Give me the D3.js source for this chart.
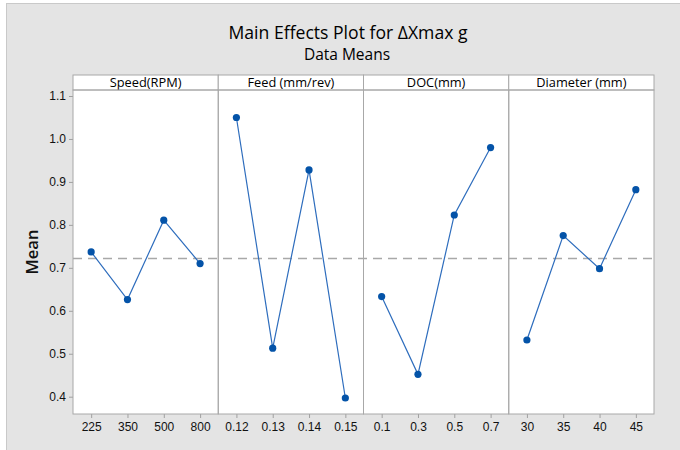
<!DOCTYPE html>
<html>
<head>
<meta charset="utf-8">
<script src="https://cdn.jsdelivr.net/npm/d3@7"></script>
<style>
  body { margin: 0; background: #fff; }
  svg { display: block; font-family: "Open Sans", "Noto Sans", sans-serif; }
  .tick text { fill: #111; }
</style>
</head>
<body>
<svg id="chart" width="680" height="450"></svg>
<script>
// data
const factors = ['Speed(RPM)', 'Feed (mm/rev)', 'DOC(mm)', 'Diameter (mm)'];
const speedLevels = ['225', '350', '500', '800'];
const speedMeans = [0.737, 0.626, 0.811, 0.710];
const feedLevels = ['0.12', '0.13', '0.14', '0.15'];
const feedMeans = [1.050, 0.513, 0.928, 0.397];
const docLevels = ['0.1', '0.3', '0.5', '0.7'];
const docMeans = [0.633, 0.452, 0.823, 0.980];
const diameterLevels = ['30', '35', '40', '45'];
const diameterMeans = [0.532, 0.775, 0.698, 0.882];
const yTicks = [0.4, 0.5, 0.6, 0.7, 0.8, 0.9, 1.0, 1.1];
const grandMean = 0.722;

const panels = [
    { name: factors[0], levels: speedLevels, means: speedMeans },
    { name: factors[1], levels: feedLevels, means: feedMeans },
    { name: factors[2], levels: docLevels, means: docMeans },
    { name: factors[3], levels: diameterLevels, means: diameterMeans },
];

const svg = d3.select('#chart');

// fond gris de la figure
svg.append('rect')
    .attr('x', 6.5).attr('y', 3.5)
    .attr('width', 680).attr('height', 450)
    .attr('fill', '#e4e4e4')
    .attr('stroke', '#c9c9c9');

const plotLeft = 73, plotRight = 654, plotTop = 90, plotBottom = 414, stripTop = 75;

// Titre
svg.append('text')
    .attr('x', 348).attr('y', 38.5)
    .attr('text-anchor', 'middle')
    .attr('font-size', 17.6)
    .attr('fill', '#000')
    .text('Main Effects Plot for ΔXmax g');

svg.append('text')
    .attr('x', 347).attr('y', 59.5)
    .attr('text-anchor', 'middle')
    .attr('font-size', 15.5)
    .attr('fill', '#000')
    .text('Data Means');

const y = d3.scaleLinear()
    .domain([0.4, 1.1])
    .range([396.7, 96]);

const facet = d3.scaleBand()
    .domain(factors)
    .range([plotLeft, plotRight]);

// panneaux blancs
svg.append('rect')
    .attr('x', plotLeft).attr('y', plotTop)
    .attr('width', plotRight - plotLeft).attr('height', plotBottom - plotTop)
    .attr('fill', '#fff');

// Axe Y
svg.append('g')
    .attr('transform', `translate(${plotLeft}, 0)`)
    .call(d3.axisLeft(y).tickValues(yTicks).tickFormat(d3.format('.1f')).tickSize(4))
    .call(g => g.select('.domain').remove())
    .call(g => g.selectAll('.tick line').attr('stroke', '#a0a0a0'))
    .call(g => g.selectAll('.tick text').attr('font-size', 12).attr('x', -7));

svg.append('text')
    .attr('transform', `translate(38, ${(plotTop + plotBottom) / 2}) rotate(-90)`)
    .attr('text-anchor', 'middle')
    .attr('font-size', 16.5)
    .attr('font-weight', 600)
    .attr('fill', '#111')
    .text('Mean');

// ligne de la moyenne
svg.append('line')
    .attr('x1', plotLeft).attr('x2', plotRight)
    .attr('y1', y(grandMean)).attr('y2', y(grandMean))
    .attr('stroke', '#a8a8a8')
    .attr('stroke-width', 1.5)
    .attr('stroke-dasharray', '9,6');

const line = d3.line();

panels.forEach(p => {
    const x0 = facet(p.name);
    const x = d3.scalePoint()
        .domain(p.levels)
        .range([x0, x0 + facet.bandwidth()])
        .padding(0.5);

    // Axe X
    svg.append('g')
        .attr('transform', `translate(0, ${plotBottom})`)
        .call(d3.axisBottom(x).tickSize(4))
        .call(g => g.select('.domain').remove())
        .call(g => g.selectAll('.tick line').attr('stroke', '#a0a0a0'))
        .call(g => g.selectAll('.tick text').attr('font-size', 12).attr('y', 8));

    // bandeau
    svg.append('rect')
        .attr('x', x0).attr('y', stripTop)
        .attr('width', facet.bandwidth()).attr('height', plotTop - stripTop)
        .attr('fill', '#fff')
        .attr('stroke', '#a8a8a8');

    svg.append('text')
        .attr('x', x0 + facet.bandwidth() / 2)
        .attr('y', stripTop + 11.8)
        .attr('text-anchor', 'middle')
        .attr('font-size', 12.8)
        .attr('fill', '#000')
        .text(p.name);

    // cadre du panneau
    svg.append('rect')
        .attr('x', x0).attr('y', plotTop)
        .attr('width', facet.bandwidth()).attr('height', plotBottom - plotTop)
        .attr('fill', 'none')
        .attr('stroke', '#a8a8a8');

    const pts = p.levels.map((l, i) => [x(l), y(p.means[i])]);

    svg.append('path')
        .attr('d', line(pts))
        .attr('fill', 'none')
        .attr('stroke', '#2e6dbd')
        .attr('stroke-width', 1.2);

    svg.append('g').selectAll('circle')
        .data(pts)
        .enter()
        .append('circle')
        .attr('cx', d => d[0])
        .attr('cy', d => d[1])
        .attr('r', 3.6)
        .attr('fill', '#0453a8');
});
</script>
</body>
</html>
